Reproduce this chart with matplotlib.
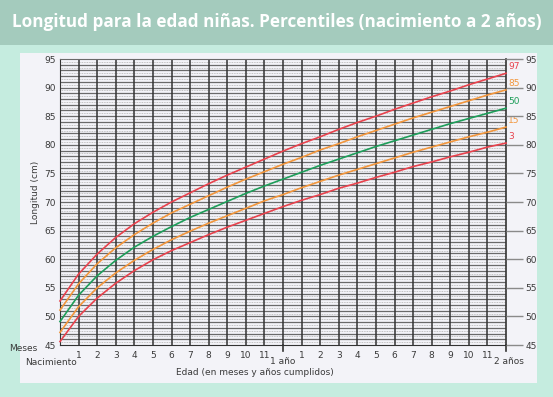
import numpy as np
import matplotlib.pyplot as plt
from matplotlib.patches import Rectangle

# months from birth to 24
months = list(range(25))

# length-for-age percentiles, girls (cm)
p3 = [45.6, 50.0, 53.2, 55.8, 58.0, 59.9, 61.5, 62.9, 64.3, 65.6, 66.8, 68.0, 69.2,
      70.3, 71.3, 72.4, 73.3, 74.3, 75.2, 76.2, 77.0, 77.9, 78.7, 79.6, 80.3]
p15 = [47.2, 51.7, 55.0, 57.6, 59.8, 61.7, 63.4, 64.9, 66.3, 67.6, 68.9, 70.2, 71.3,
       72.5, 73.6, 74.7, 75.7, 76.7, 77.7, 78.7, 79.6, 80.5, 81.4, 82.2, 83.1]
p50 = [49.1, 53.7, 57.1, 59.8, 62.1, 64.0, 65.7, 67.3, 68.7, 70.1, 71.5, 72.8, 74.0,
       75.2, 76.4, 77.5, 78.6, 79.7, 80.7, 81.7, 82.7, 83.7, 84.6, 85.5, 86.4]
p85 = [51.1, 55.7, 59.2, 62.0, 64.3, 66.3, 68.1, 69.6, 71.1, 72.6, 74.0, 75.3, 76.6,
       77.8, 79.1, 80.2, 81.4, 82.5, 83.6, 84.7, 85.7, 86.7, 87.7, 88.7, 89.6]
p97 = [52.7, 57.4, 60.9, 63.8, 66.2, 68.2, 70.0, 71.6, 73.2, 74.7, 76.1, 77.5, 78.9,
       80.2, 81.4, 82.7, 83.9, 85.0, 86.2, 87.3, 88.4, 89.4, 90.5, 91.5, 92.5]

curve_names = ["97", "85", "50", "15", "3"]
y_ticks = [45, 50, 55, 60, 65, 70, 75, 80, 85, 90, 95]
x_tick_labels = ["1", "2", "3", "4", "5", "6", "7", "8", "9", "10", "11", "",
                 "1", "2", "3", "4", "5", "6", "7", "8", "9", "10", "11"]

red = "#e8424d"
orange = "#f2963c"
green = "#1e9e5a"
colors = [red, orange, green, orange, red]
ink = "#3a3a3a"

fig = plt.figure(figsize=(5.53, 3.97), dpi=100)
fig.patch.set_facecolor("#c5ecdf")

# title band and white panel
fig.add_artist(Rectangle((0, 1 - 45 / 397), 1, 45 / 397, transform=fig.transFigure,
                         facecolor="#a4cbbd", edgecolor="none", zorder=0))
fig.add_artist(Rectangle((20 / 553, 1 - 383 / 397), 517 / 553, 330 / 397,
                         transform=fig.transFigure, facecolor="#f3f3f8",
                         edgecolor="none", zorder=0))
fig.text(0.5, 1 - 22 / 397, "Longitud para la edad niñas. Percentiles (nacimiento a 2 años)",
         ha="center", va="center", color="white", fontsize=12.3, fontweight="bold",
         family="Open Sans")

ax = fig.add_axes([60 / 553, 52 / 397, 446 / 553, 286 / 397])
ax.set_facecolor("#f3f3f8")
ax.set_xlim(0, 24)
ax.set_ylim(45, 95)

# grid
for y in np.arange(45.5, 95, 1.0):
    ax.axhline(y, color="#b0b0b0", lw=0.6, ls=(0, (1, 1)), zorder=1)
for y in range(46, 95):
    ax.axhline(y, color="#6a6a6a", lw=0.9, zorder=1)
for x in range(1, 24):
    ax.axvline(x, color="#333333", lw=1.1, zorder=1)

series = [p97, p85, p50, p15, p3]
for vals, c, name in zip(series, colors, curve_names):
    ax.plot(months, vals, color=c, lw=1.2, zorder=3, clip_on=False)
    ax.text(24.12, vals[-1] + 0.4, name, color=c, fontsize=6.5, ha="left", va="bottom")

for side in ["left", "bottom", "right", "top"]:
    ax.spines[side].set_color("#333333")
ax.spines["right"].set_linewidth(1.2)
ax.spines["top"].set_color("#6a6a6a")

ax.set_yticks(y_ticks)
ax.set_yticklabels([str(v) for v in y_ticks])
ax.tick_params(axis="y", length=0, labelsize=6.5, pad=3, labelcolor=ink)

# right-hand scale with long ticks
ax2 = ax.twinx()
ax2.set_ylim(45, 95)
ax2.set_yticks(y_ticks)
ax2.set_yticklabels([str(v) for v in y_ticks])
ax2.tick_params(axis="y", length=12, width=1.0, color="#8a8a8a", labelsize=6.5,
                pad=2, labelcolor=ink)
for s in ax2.spines.values():
    s.set_visible(False)

ax.set_xticks(range(1, 24))
ax.set_xticklabels(x_tick_labels)
ax.tick_params(axis="x", length=0, labelsize=6.5, pad=4, labelcolor=ink)

# year marks
ax.plot([12, 12], [45, 44.0], color="#333333", lw=1.2, clip_on=False)
ax.plot([24, 24], [45, 44.0], color="#333333", lw=1.2, clip_on=False)
ax.text(12, 42.9, "1 año", ha="center", va="top", fontsize=6.5, color=ink)
ax.text(24.15, 42.9, "2 años", ha="center", va="top", fontsize=6.5, color=ink)
ax.text(-1.2, 44.4, "Meses", ha="right", va="center", fontsize=6.5, color=ink)
ax.text(-0.5, 42.8, "Nacimiento", ha="center", va="top", fontsize=6.5, color=ink)
ax.text(10.5, 40.9, "Edad (en meses y años cumplidos)", ha="center", va="top",
        fontsize=6.5, color=ink)
fig.text(35 / 553, 1 - 192 / 397, "Longitud (cm)", rotation=90, ha="center",
         va="center", fontsize=6.5, color=ink)

fig.savefig("out.png", dpi=100, facecolor=fig.get_facecolor())
